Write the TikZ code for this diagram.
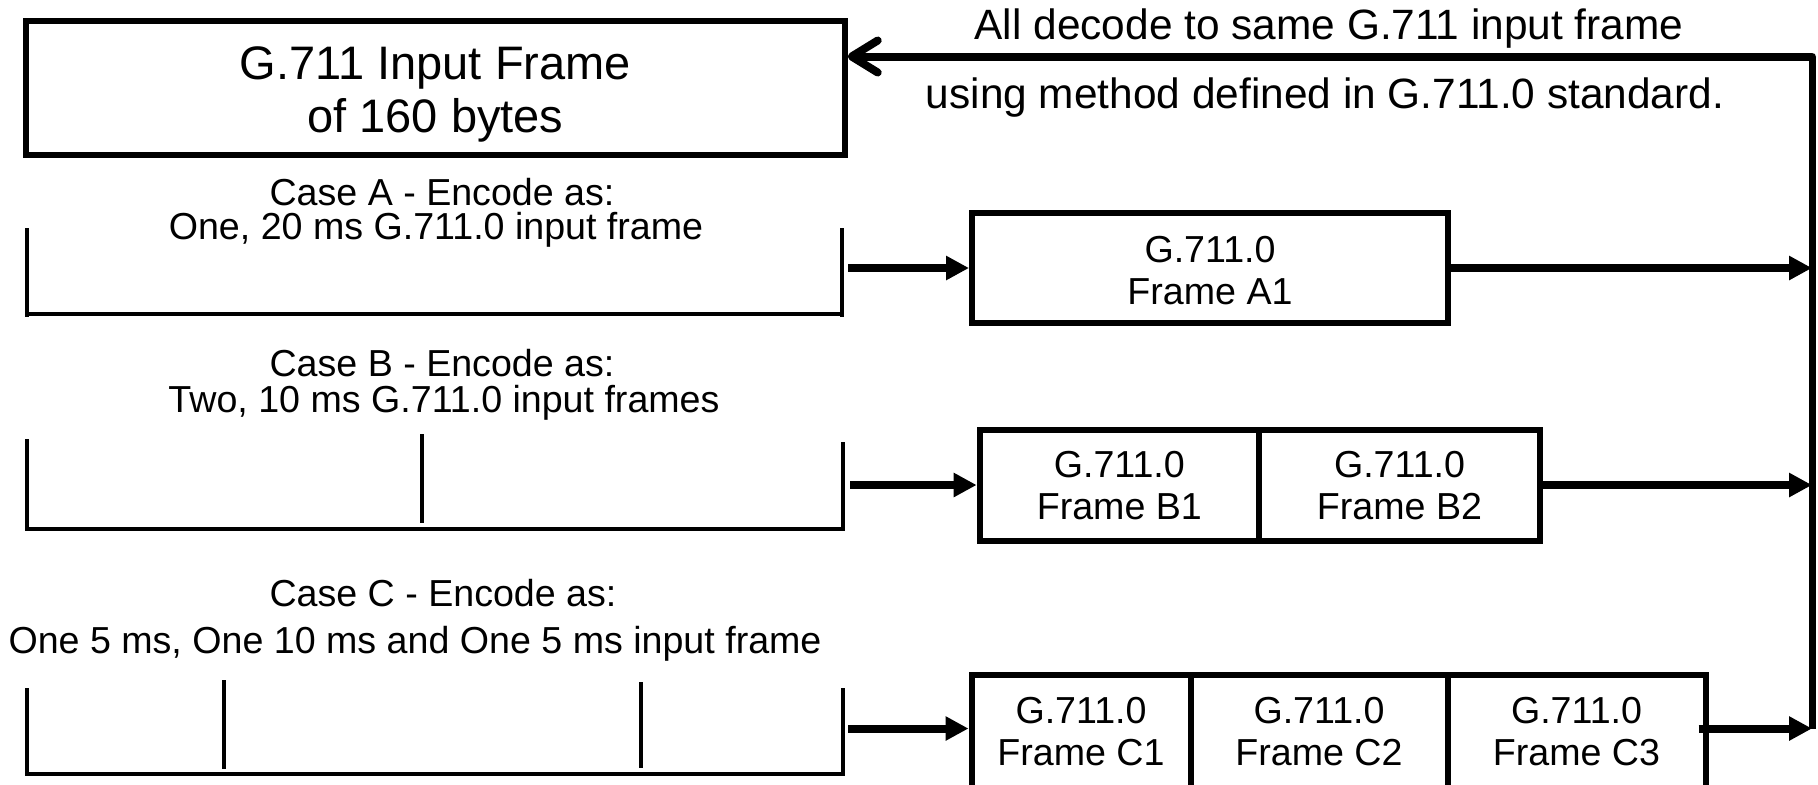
\documentclass[tikz,border=0pt]{standalone}
\usepackage{fontspec}
\setmainfont{Liberation Sans}
\usetikzlibrary{arrows.meta}
\begin{document}
\begin{tikzpicture}[x=0.5pt,y=-0.5pt,
  cell/.style={draw, line width=3pt, inner sep=0pt, align=center,
    font=\fontsize{18.8}{21}\selectfont},
  caption/.style={inner sep=0pt, text height=0.75em, text depth=0.2em,
    font=\fontsize{18.8}{21}\selectfont},
  note/.style={inner sep=0pt, text height=0.75em, text depth=0.2em,
    font=\fontsize{21.2}{24}\selectfont},
  edge/.style={line width=2pt},
  divider/.style={line width=1.6pt},
  feed/.style={line width=4pt, -{Triangle[length=11.5pt,width=11.5pt]}},
]
\useasboundingbox (0,0) rectangle (1818,784);
\clip (0,0) rectangle (1818,784);

% source frame
\node[draw, line width=2.8pt, minimum width=409.5pt, minimum height=67pt,
  inner sep=0pt] (input) at (435.4,88) {};
\node[align=center, inner sep=0pt, font=\fontsize{23.5}{26.5}\selectfont]
  (inputText) at (435.4,94) {G.711 Input Frame\\of 160 bytes};

% decode note
\node[note] (decode) at (1329,34) {All decode to same G.711 input frame};
\node[note] (method) at (1325,103) {using method defined in G.711.0 standard.};

% case captions
\node[caption] (caseA) at (442,200) {Case A - Encode as:};
\node[caption] (caseAsub) at (436,234) {One, 20 ms G.711.0 input frame};
\node[caption] (caseB) at (442,371) {Case B - Encode as:};
\node[caption] (caseBsub) at (444,407) {Two, 10 ms G.711.0 input frames};
\node[caption] (caseC) at (443,601) {Case C - Encode as:};
\node[caption] (caseCsub) at (415,648) {One 5 ms, One 10 ms and One 5 ms input frame};

% case A: one 20 ms span
\draw[edge] (27,228) -- (27,317);
\draw[edge] (842,228) -- (842,317);
\draw[edge] (27,314) -- (842,314);

% case B: two 10 ms spans
\draw[edge] (27,439) -- (27,531);
\draw[divider] (422,434) -- (422,523);
\draw[edge] (843,442) -- (843,531);
\draw[edge] (27,528.5) -- (843,528.5);

% case C: 5 ms, 10 ms, 5 ms spans
\draw[edge] (27,688) -- (27,776);
\draw[divider] (224,680) -- (224,769);
\draw[divider] (641,682) -- (641,768);
\draw[edge] (843,688) -- (843,776);
\draw[edge] (27,773.5) -- (843,773.5);

% arrow start points and the return rail
\coordinate (aOut) at (848,268);
\coordinate (bOut) at (850,485);
\coordinate (cOut) at (848,728.5);
\coordinate (railTop) at (1812,56.5);
\coordinate (railEnd) at (1812,728.5);

% encoded frames
\node[cell, minimum width=238pt, minimum height=55pt] (A1) at (1210,268) {};
\node[align=center, inner sep=0pt, font=\fontsize{18.8}{21}\selectfont]
  (A1text) at (1210,271) {G.711.0\\Frame A1};
\node[cell, minimum width=139.7pt, minimum height=55.5pt] (B1) at (1119.3,485.5) {G.711.0\\Frame B1};
\node[cell, minimum width=140.5pt, minimum height=55.5pt] (B2) at (1399.5,485.5) {G.711.0\\Frame B2};
\node[cell, minimum width=109.5pt, minimum height=57pt] (C1) at (1081,732) {G.711.0\\Frame C1};
\node[cell, minimum width=128.5pt, minimum height=57pt] (C2) at (1319,732) {G.711.0\\Frame C2};
\node[cell, minimum width=129pt, minimum height=57pt] (C3) at (1576.5,732) {G.711.0\\Frame C3};

% encode arrows
\draw[feed] (aOut) -- (aOut -| A1.west);
\draw[feed] (bOut) -- (bOut -| B1.west);
\draw[feed] (cOut) -- (cOut -| C1.west);

% arrows into the return rail
\draw[feed] (aOut -| A1.east) -- (aOut -| railTop);
\draw[feed] (bOut -| B2.east) -- (bOut -| railTop);
\draw[feed] ([xshift=-5pt]cOut -| C3.east) -- (railEnd);

% return rail back to the source frame
\draw[line width=3.5pt] (railEnd) -- (railTop);
\draw[line width=4pt, line cap=round, -{Straight Barb[length=13pt,width=16pt,round]}]
  (railTop) -- (railTop -| input.east);
\end{tikzpicture}
\end{document}
